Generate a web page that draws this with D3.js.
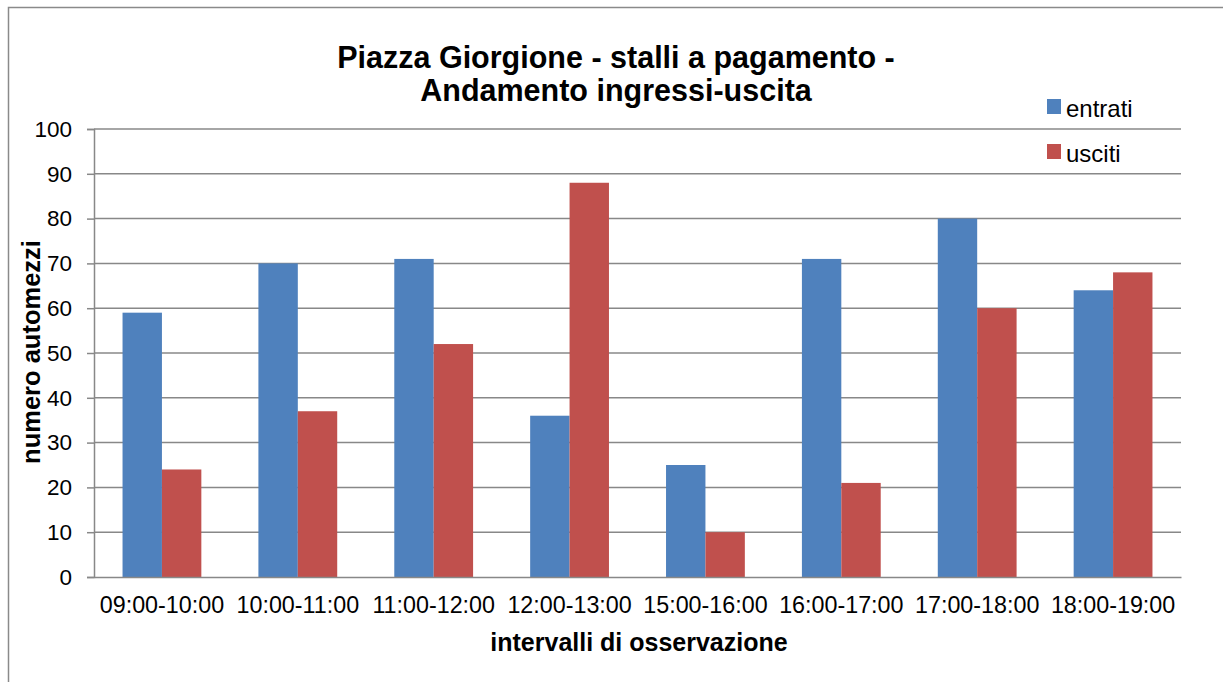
<!DOCTYPE html>
<html><head><meta charset="utf-8">
<script src="https://cdn.jsdelivr.net/npm/d3@7"></script>
<style>body{margin:0;background:#fff}svg{display:block;font-family:"Liberation Sans",Arial,sans-serif}</style>
</head><body><svg id="c" width="1223" height="682"></svg>
<script>
const categories = ["09:00-10:00","10:00-11:00","11:00-12:00","12:00-13:00","15:00-16:00","16:00-17:00","17:00-18:00","18:00-19:00"];
const entrati = [59, 70, 71, 36, 25, 71, 80, 64];
const usciti = [24, 37, 52, 88, 10, 21, 60, 68];
const seriesNames = ["entrati","usciti"];
const seriesColors = ["#4F81BD","#C0504D"];
const yTicks = [0,10,20,30,40,50,60,70,80,90,100];

const FF = "Liberation Sans, Arial, sans-serif";
const svg = d3.select("#c");
svg.append("rect").attr("x",8.5).attr("y",7.5).attr("width",1240).attr("height",700)
  .attr("fill","#fff").attr("stroke","#8a8a8a").attr("stroke-width",1.5);

const L=94, R=1181, T=129, B=577;
const x = d3.scaleBand().domain(categories).range([L,R]).padding(0);
const y = d3.scaleLinear().domain([0,100]).range([B,T]);
const bw = x.bandwidth()*0.29;

// gridlines
svg.append("g").selectAll("line").data(yTicks.filter(d=>d>0)).join("line")
  .attr("x1",L).attr("x2",R).attr("y1",d=>y(d)).attr("y2",d=>y(d))
  .attr("stroke","#888").attr("stroke-width",1.5);

// y axis
const ya = svg.append("g").attr("transform",`translate(${L},0)`)
  .call(d3.axisLeft(y).tickValues(yTicks).tickSize(7).tickPadding(15));
ya.select(".domain").attr("stroke","#888").attr("stroke-width",1.5);
ya.selectAll(".tick line").attr("stroke","#888").attr("stroke-width",1.5);
ya.selectAll("text").attr("font-size",22.5).attr("fill","#000").attr("font-family",FF);

// bars
const series = [entrati, usciti];
series.forEach((vals,si)=>{
  svg.append("g").selectAll("rect").data(vals).join("rect")
    .attr("x",(d,i)=>x(categories[i])+x.bandwidth()/2 + (si===0?-bw:0))
    .attr("width",bw)
    .attr("y",d=>y(d)).attr("height",d=>B-y(d))
    .attr("fill",seriesColors[si]);
});

// x axis
const xa = svg.append("g").attr("transform",`translate(0,${B})`)
  .call(d3.axisBottom(x).tickSize(0).tickPadding(19));
xa.select(".domain").attr("stroke","#888").attr("stroke-width",1.5);
xa.selectAll("text").attr("font-size",23.3).attr("fill","#000").attr("font-family",FF);

// titles
svg.append("text").attr("x",616).attr("y",68).attr("text-anchor","middle")
  .attr("font-size",30.5).attr("font-weight","bold").text("Piazza Giorgione - stalli  a pagamento -");
svg.append("text").attr("x",616).attr("y",101).attr("text-anchor","middle")
  .attr("font-size",30.5).attr("font-weight","bold").text("Andamento ingressi-uscita");
svg.append("text").attr("x",639).attr("y",651).attr("text-anchor","middle")
  .attr("font-size",25).attr("font-weight","bold").text("intervalli di osservazione");
svg.append("text").attr("transform","translate(40,352) rotate(-90)").attr("text-anchor","middle")
  .attr("font-size",25.5).attr("font-weight","bold").text("numero automezzi");

// legend
const lg = svg.append("g");
seriesNames.forEach((n,i)=>{
  const yy = 117 + i*45;
  lg.append("rect").attr("x",1047).attr("y",yy-18).attr("width",14).attr("height",15).attr("fill",seriesColors[i]);
  lg.append("text").attr("x",1066).attr("y",yy).attr("font-size",24).text(n);
});
</script></body></html>
